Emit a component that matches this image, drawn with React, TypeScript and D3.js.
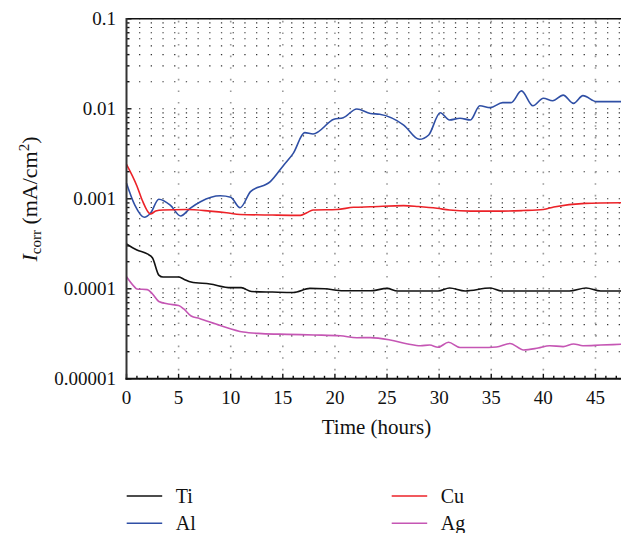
import React from "react";
import * as d3 from "d3";

const W = 621;
const H = 533;

const tiTime = [0, 1, 2, 2.5, 3.1, 3.5, 5, 5.5, 6.2, 8, 10, 11, 12, 14, 16, 17.6, 19, 20.8, 23.4, 25, 26, 29.9, 31, 32.5, 34.9, 36, 42.5, 44.1, 45.5, 47.5];
const tiValue = [3.15e-4, 2.7e-4, 2.44e-4, 2.2e-4, 1.42e-4, 1.35e-4, 1.35e-4, 1.28e-4, 1.19e-4, 1.13e-4, 1.03e-4, 1.03e-4, 9.33e-5, 9.2e-5, 9.1e-5, 1.01e-4, 1.0e-4, 9.5e-5, 9.5e-5, 1.01e-4, 9.46e-5, 9.46e-5, 1.02e-4, 9.46e-5, 1.02e-4, 9.46e-5, 9.46e-5, 1.02e-4, 9.46e-5, 9.46e-5];

const alTime = [0, 0.8, 1.7, 2.3, 3.1, 4.2, 5.2, 6.1, 7.1, 9, 10, 10.9, 11.9, 13.8, 15.1, 16, 17.1, 17.9, 19.9, 20.8, 22.1, 23.4, 24.3, 26.6, 28.1, 29, 30.1, 31, 32, 33, 33.9, 34.9, 36.1, 36.9, 37.9, 39, 40, 40.9, 41.9, 42.9, 43.8, 45.1, 47.5];
const alValue = [1.49e-3, 8.5e-4, 6.23e-4, 6.9e-4, 9.87e-4, 8.5e-4, 6.44e-4, 7.84e-4, 9.29e-4, 1.08e-3, 1.04e-3, 7.96e-4, 1.2e-3, 1.55e-3, 2.38e-3, 3.2e-3, 5.43e-3, 5.25e-3, 7.64e-3, 7.96e-3, 9.95e-3, 8.87e-3, 8.7e-3, 6.6e-3, 4.58e-3, 5.12e-3, 9.05e-3, 7.51e-3, 7.84e-3, 7.51e-3, 1.08e-2, 1.03e-2, 1.17e-2, 1.17e-2, 1.58e-2, 1.08e-2, 1.31e-2, 1.23e-2, 1.42e-2, 1.15e-2, 1.4e-2, 1.2e-2, 1.2e-2];

const cuTime = [0, 1, 1.5, 2.3, 2.8, 3.5, 5.8, 8, 9.6, 10.9, 14, 16.7, 17.3, 17.9, 20.2, 21.8, 23.4, 26.6, 28, 29.8, 31, 33, 36, 38, 40, 41, 44, 47.5];
const cuValue = [2.42e-3, 1.39e-3, 9.7e-4, 6.78e-4, 7.3e-4, 7.5e-4, 7.6e-4, 7.3e-4, 7.0e-4, 6.7e-4, 6.6e-4, 6.55e-4, 7.0e-4, 7.5e-4, 7.6e-4, 8.05e-4, 8.15e-4, 8.4e-4, 8.2e-4, 7.84e-4, 7.5e-4, 7.3e-4, 7.3e-4, 7.4e-4, 7.6e-4, 8.1e-4, 8.9e-4, 9.05e-4];

const agTime = [0, 0.7, 1, 2, 2.5, 3.1, 4, 5, 5.5, 6.2, 7, 9, 11.2, 13, 15.4, 18, 20.5, 22.1, 23.4, 25.3, 27, 28.2, 29.1, 29.9, 30.9, 32, 34, 35.5, 36.8, 38.1, 39.5, 40.6, 41.9, 42.9, 43.8, 45.5, 47.5];
const agValue = [1.36e-4, 1.07e-4, 9.95e-5, 9.8e-5, 8.75e-5, 7.23e-5, 6.78e-5, 6.52e-5, 5.97e-5, 4.99e-5, 4.68e-5, 3.91e-5, 3.31e-5, 3.18e-5, 3.12e-5, 3.07e-5, 3.01e-5, 2.86e-5, 2.87e-5, 2.7e-5, 2.44e-5, 2.33e-5, 2.37e-5, 2.24e-5, 2.55e-5, 2.23e-5, 2.23e-5, 2.26e-5, 2.47e-5, 2.09e-5, 2.2e-5, 2.33e-5, 2.28e-5, 2.44e-5, 2.33e-5, 2.37e-5, 2.42e-5];

const seriesNames = ["Ti", "Al", "Cu", "Ag"];
const seriesColors = ["#111111", "#2f4fa5", "#ec2228", "#c556b4"];

const xTicks = [0, 5, 10, 15, 20, 25, 30, 35, 40, 45];
const yMajorTicks = [0.00001, 0.0001, 0.001, 0.01, 0.1];
const yTickLabels = ["0.00001", "0.0001", "0.001", "0.01", "0.1"];

const FONT = "'Liberation Serif', 'Times New Roman', serif";

export default function App() {
  const left = 126.5;
  const right = 621.5;
  const top = 18.8;
  const bottom = 378.8;

  const x = d3.scaleLinear().domain([0, 47.5]).range([left, right]);
  const y = d3.scaleLog().domain([0.00001, 0.1]).range([bottom, top]);

  const series = [
    { t: tiTime, v: tiValue },
    { t: alTime, v: alValue },
    { t: cuTime, v: cuValue },
    { t: agTime, v: agValue },
  ];

  const gen = d3
    .line<[number, number]>()
    .x((d) => x(d[0]))
    .y((d) => y(d[1]))
    .curve(d3.curveMonotoneX);

  const minorY: number[] = [];
  for (let e = -5; e <= -2; e++) {
    for (let k = 1; k <= 9; k++) minorY.push(k * Math.pow(10, e));
  }
  minorY.push(0.1);

  const minorX: number[] = d3.range(0, 48, 1);

  const legendPos = [
    [126.7, 496],
    [126.7, 523.3],
    [391.7, 496],
    [391.7, 523.3],
  ];

  return (
    <svg
      width={W}
      height={H}
      style={{ position: "absolute", left: 0, top: 0, background: "#fff", fontFamily: FONT }}
    >
      <rect x={0} y={0} width={W} height={H} fill="#fff" />
      {minorY.map((v, i) => (
        <line
          key={"hg" + i}
          x1={left + 12.5}
          x2={right}
          y1={y(v)}
          y2={y(v)}
          stroke="#333"
          strokeWidth={1.1}
          strokeDasharray="1.3 10.4"
        />
      ))}
      {xTicks.slice(1).map((t, i) => (
        <line
          key={"vg" + i}
          x1={x(t)}
          x2={x(t)}
          y1={top + 2}
          y2={bottom}
          stroke="#9a9a9a"
          strokeWidth={1.6}
          strokeDasharray="1.6 10"
        />
      ))}
      <line x1={left} x2={right} y1={top} y2={top} stroke="#111" strokeWidth={1.5} />
      {series.map((s, i) => (
        <path
          key={"s" + i}
          d={gen(s.t.map((t, j) => [t, s.v[j]] as [number, number])) || ""}
          fill="none"
          stroke={seriesColors[i]}
          strokeWidth={1.6}
        />
      ))}
      {minorY.map((v, i) => {
        const major = yMajorTicks.some((m) => Math.abs(m - v) / m < 1e-6);
        return (
          <line
            key={"yt" + i}
            x1={left}
            x2={left + (major ? 5 : 3)}
            y1={y(v)}
            y2={y(v)}
            stroke="#111"
            strokeWidth={1.4}
          />
        );
      })}
      {minorX.map((t, i) => (
        <line
          key={"xt" + i}
          x1={x(t)}
          x2={x(t)}
          y1={bottom}
          y2={bottom - (t % 5 === 0 ? 5 : 3)}
          stroke="#111"
          strokeWidth={1.4}
        />
      ))}
      <line x1={left} x2={left} y1={top - 0.8} y2={bottom + 1} stroke="#333" strokeWidth={2} />
      <line x1={left - 1} x2={right} y1={bottom} y2={bottom} stroke="#111" strokeWidth={2} />
      {yMajorTicks.map((v, i) => (
        <text key={"yl" + i} x={116} y={y(v) + 5.8} textAnchor="end" fontSize={19} fill="#111">
          {yTickLabels[i]}
        </text>
      ))}
      {xTicks.map((t, i) => (
        <text key={"xl" + i} x={x(t)} y={403.5} textAnchor="middle" fontSize={19} fill="#111">
          {String(t)}
        </text>
      ))}
      <text x={376.5} y={434} textAnchor="middle" fontSize={21} fill="#111">
        Time (hours)
      </text>
      <text transform="translate(36.5,199) rotate(-90)" textAnchor="middle" fontSize={22} fill="#111">
        <tspan fontStyle="italic">I</tspan>
        <tspan fontSize={15} dy={4}>corr</tspan>
        <tspan dy={-4}> (mA/cm</tspan>
        <tspan fontSize={15} dy={-8}>2</tspan>
        <tspan dy={8}>)</tspan>
      </text>
      {seriesNames.map((n, i) => {
        const [lx, ly] = legendPos[i];
        return (
          <g key={"lg" + i}>
            <line x1={lx} x2={lx + 35.5} y1={ly} y2={ly} stroke={seriesColors[i]} strokeWidth={1.6} />
            <text x={lx + 49} y={ly + 6.5} fontSize={20} fill="#111">
              {n}
            </text>
          </g>
        );
      })}
    </svg>
  );
}
